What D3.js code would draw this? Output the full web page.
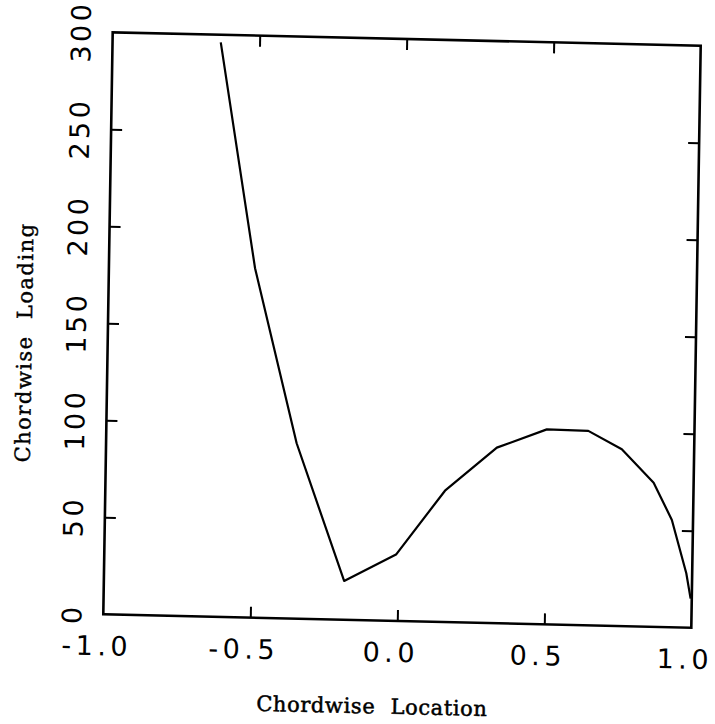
<!DOCTYPE html>
<html>
<head>
<meta charset="utf-8">
<script src="https://cdn.jsdelivr.net/npm/d3@7"></script>
<style>
  html, body { margin: 0; padding: 0; background: #fff; }
  svg { display: block; }
</style>
</head>
<body>
<svg id="chart" width="715" height="724"></svg>
<script>
// Chordwise loading distribution along the chord (-1 = leading edge, 1 = trailing edge)
const chordLocation = [-0.632, -0.503, -0.352, -0.183, -0.008, 0.155, 0.329, 0.498, 0.639, 0.754, 0.864, 0.928, 0.980, 0.996];
const chordLoading  = [296.1, 180.1, 90.4, 20.0, 34.2, 67.7, 90.5, 100.5, 100.2, 91.1, 74.3, 55.3, 28.0, 15.0];

const xTickValues = [-1, -0.5, 0, 0.5, 1];
const xTickLabels = ["-1.0", "-0.5", "0.0", "0.5", "1.0"];
const yTickValues = [0, 50, 100, 150, 200, 250, 300];
const yTickLabels = ["0", "50", "100", "150", "200", "250", "300"];

const W = 588, H = 582;
const svg = d3.select("#chart");

// plotting frame, set slightly askew on the sheet
const g = svg.append("g")
  .attr("transform", "matrix(1,0.0228,-0.01615,1,112.7,32.3)");

const x = d3.scaleLinear().domain([-1, 1]).range([0, W]);
const y = d3.scaleLinear().domain([0, 300]).range([H, 0]);

// inward ticks on all four sides
const inner = [-0.5, 0, 0.5];
const yInner = [50, 100, 150, 200, 250];
function styleAxis(sel) {
  sel.select(".domain").remove();
  sel.selectAll(".tick text").remove();
  sel.selectAll(".tick line").attr("stroke", "#000").attr("stroke-width", 2);
}
g.append("g").attr("transform", `translate(0,${H})`)
  .call(d3.axisBottom(x).tickValues(inner).tickSizeInner(-11).tickSizeOuter(0)).call(styleAxis);
g.append("g")
  .call(d3.axisTop(x).tickValues(inner).tickSizeInner(-11).tickSizeOuter(0)).call(styleAxis);
g.append("g")
  .call(d3.axisLeft(y).tickValues(yInner).tickSizeInner(-11).tickSizeOuter(0)).call(styleAxis);
g.append("g").attr("transform", `translate(${W},0)`)
  .call(d3.axisRight(y).tickValues(yInner).tickSizeInner(-11).tickSizeOuter(0)).call(styleAxis);

// frame
g.append("rect")
  .attr("x", 0).attr("y", 0).attr("width", W).attr("height", H)
  .attr("fill", "none").attr("stroke", "#000").attr("stroke-width", 2.6);

// loading curve
const pts = chordLocation.map((c, i) => [c, chordLoading[i]]);
g.append("path")
  .datum(pts)
  .attr("fill", "none")
  .attr("stroke", "#000")
  .attr("stroke-width", 2.2)
  .attr("stroke-linejoin", "round")
  .attr("d", d3.line().x(d => x(d[0])).y(d => y(d[1])));

// tick labels
const tickFont = "'DejaVu Sans', sans-serif";
g.selectAll("text.xl").data(xTickValues).enter().append("text")
  .attr("class", "xl")
  .attr("x", d => x(d) - 6)
  .attr("y", H + 41)
  .attr("text-anchor", "middle")
  .attr("font-family", tickFont)
  .attr("font-size", 27)
  .attr("letter-spacing", 4.5)
  .attr("fill", "#000")
  .text((d, i) => xTickLabels[i]);

g.selectAll("text.yl").data(yTickValues).enter().append("text")
  .attr("class", "yl")
  .attr("transform", d => `translate(-22,${y(d)}) rotate(-90)`)
  .attr("text-anchor", "middle")
  .attr("font-family", tickFont)
  .attr("font-size", 27)
  .attr("letter-spacing", 3.5)
  .attr("fill", "#000")
  .text((d, i) => yTickLabels[i]);

// axis titles
const titleFont = "'DejaVu Serif', serif";
g.append("text")
  .attr("x", 270).attr("y", H + 93)
  .attr("text-anchor", "middle")
  .attr("font-family", titleFont)
  .attr("font-size", 21)
  .attr("letter-spacing", 0.6)
  .attr("word-spacing", 8)
  .attr("fill", "#000")
  .attr("stroke", "#000")
  .attr("stroke-width", 0.5)
  .text("Chordwise Location");

g.append("text")
  .attr("transform", `translate(-76,${312}) rotate(-90)`)
  .attr("text-anchor", "middle")
  .attr("font-family", titleFont)
  .attr("font-size", 21)
  .attr("letter-spacing", 1.5)
  .attr("word-spacing", 8)
  .attr("fill", "#000")
  .attr("stroke", "#000")
  .attr("stroke-width", 0.4)
  .text("Chordwise Loading");
</script>
</body>
</html>
